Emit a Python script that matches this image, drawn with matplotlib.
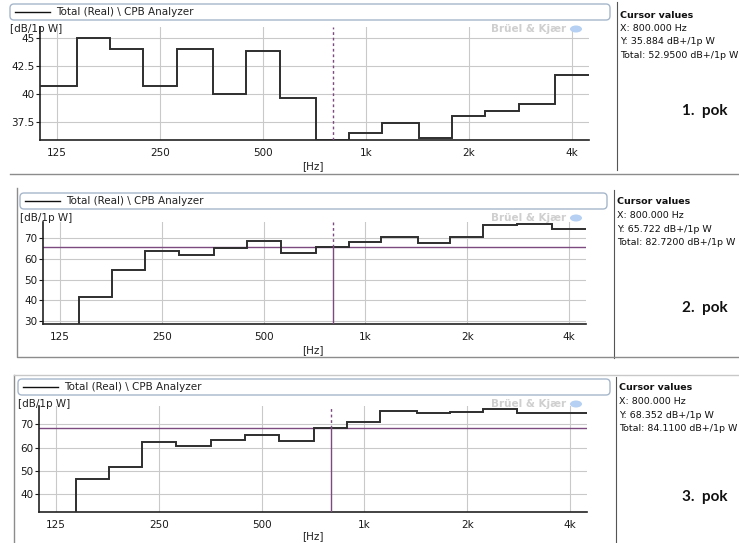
import numpy as np
import matplotlib
matplotlib.use("Agg")
import matplotlib.pyplot as plt
import matplotlib.transforms as mtransforms
from matplotlib.lines import Line2D
from matplotlib.patches import FancyBboxPatch, Ellipse

# 1/3 octave bands
bands = [125, 160, 200, 250, 315, 400, 500, 630, 800, 1000, 1250, 1600, 2000, 2500, 3150, 4000]
xticks = [125, 250, 500, 1000, 2000, 4000]
xticklabels = ['125', '250', '500', '1k', '2k', '4k']

# levels in dB/1p W (first band of 2. and 3. is below the axis)
pok1 = [40.7, 45.0, 44.0, 40.7, 44.0, 40.0, 43.8, 39.6, 35.884, 36.5, 37.4, 36.1, 38.05, 38.5, 39.1, 41.65]
pok2 = [20, 41.6, 54.7, 63.7, 62.1, 65.3, 68.8, 63.0, 65.722, 68.1, 70.6, 68.0, 70.6, 76.4, 77.0, 74.6]
pok3 = [20, 46.6, 51.7, 62.6, 60.6, 63.4, 65.4, 62.8, 68.352, 71.0, 75.9, 75.0, 75.5, 76.9, 74.8, 75.0]

cursor_x = 800
cursor_y = [35.884, 65.722, 68.352]
totals = ['52.9500', '82.7200', '84.1100']
labels = ['1.  pok', '2.  pok', '3.  pok']

yticks = [[37.5, 40, 42.5, 45], [30, 40, 50, 60, 70], [40, 50, 60, 70]]
ylims = [(35.884, 45.95), (28.4, 78.0), (32.1, 78.0)]

W, H = 739, 543
fig = plt.figure(figsize=(W / 100, H / 100), dpi=100)
fig.patch.set_facecolor('white')
T = mtransforms.Affine2D().scale(1, -1).translate(0, H)  # image pixel coords

edges = np.array(bands + [bands[-1]]) * 1.0
edges[:-1] = np.array(bands) * 10 ** -0.05
edges[-1] = bands[-1] * 10 ** 0.05

purple = '#7d4a80'
stepc = '#2e2e2e'
gridc = '#c9c9c9'

# panel geometry in pixels: axes left, right, top, bottom, panel top
geo = [
    (40, 589, 27, 140, 0),
    (43, 586, 222, 324, 188),
    (39, 587, 406, 512, 375),
]
legend_box = [(10, 610, 4, 20), (20, 607, 193, 209), (18, 610, 379, 395)]
sep_x = [617, 614, 616]
info_y = [15, 202, 388]
pok_y = [111, 308, 497]
hz_off = [26, 26, 24]

data = [pok1, pok2, pok3]

for i in range(3):
    l, r, t, b, pt = geo[i]
    ax = fig.add_axes([l / W, 1 - b / H, (r - l) / W, (b - t) / H])
    ax.set_xscale('log')
    ax.stairs(data[i], edges, baseline=None, color=stepc, lw=1.4, zorder=3)
    ax.set_xlim(edges[0], edges[-1])
    ax.set_ylim(*ylims[i])
    ax.set_xticks(xticks)
    ax.set_xticklabels(xticklabels)
    ax.xaxis.set_minor_locator(matplotlib.ticker.NullLocator())
    ax.set_yticks(yticks[i])
    ax.set_yticklabels(['%g' % v for v in yticks[i]])
    ax.tick_params(axis='x', length=0, pad=6, labelsize=7.5, colors='#1a1a1a')
    ax.tick_params(axis='y', length=3, width=0.8, pad=1, labelsize=7.5, colors='#1a1a1a')
    ax.grid(True, color=gridc, lw=0.8)
    ax.set_axisbelow(True)
    for s in ['top', 'right']:
        ax.spines[s].set_visible(False)
    for s in ['left', 'bottom']:
        ax.spines[s].set_color('#222222')
        ax.spines[s].set_linewidth(1.2)

    # cursor
    y0, y1 = ylims[i]
    cy = cursor_y[i]
    if cy - y0 < 0.01 * (y1 - y0):
        ax.plot([cursor_x, cursor_x], [y0, y1], color=purple, lw=1.0, ls=(0, (2, 2)), zorder=4)
    else:
        ax.axhline(cy, color=purple, lw=1.0, zorder=2)
        ax.plot([cursor_x, cursor_x], [y0, cy], color=purple, lw=1.0, zorder=4)
        ax.plot([cursor_x, cursor_x], [cy, y1], color=purple, lw=1.0, ls=(0, (2, 2)), zorder=4)

    # legend bar
    lx0, lx1, ly0, ly1 = legend_box[i]
    fig.add_artist(FancyBboxPatch((lx0, ly0), lx1 - lx0, ly1 - ly0,
                                  boxstyle='round,pad=0,rounding_size=4',
                                  transform=T, fc='white', ec='#a7b7cb', lw=1.0))
    fig.add_artist(Line2D([lx0 + 5, lx0 + 40], [(ly0 + ly1) / 2] * 2, transform=T,
                          color='#111111', lw=1.0))
    fig.text(lx0 + 46, (ly0 + ly1) / 2, 'Total (Real) \\ CPB Analyzer', transform=T,
             fontsize=7.5, va='center', ha='left', color='#222222')

    # axis labels
    fig.text(lx0, ly1 + 9, '[dB/1p W]', transform=T, fontsize=7.5, va='center',
             ha='left', color='#222222')
    fig.text(313, b + hz_off[i], '[Hz]', transform=T, fontsize=7.5, va='center',
             ha='center', color='#222222')

    # watermark
    fig.text(566, ly1 + 9, 'Brüel & Kjær', transform=T, fontsize=7.5, va='center',
             ha='right', color='#cfcfcf', fontweight='bold')
    fig.add_artist(Ellipse((576, ly1 + 9), 12, 7, transform=T, fc='#b5d0f2', ec='none'))

    # right info panel
    sx = sep_x[i]
    fig.add_artist(Line2D([sx, sx], [pt + 2, pt + 170], transform=T, color='#555555', lw=0.8))
    iy = info_y[i]
    fs = 6.8
    fig.text(sx + 3, iy, 'Cursor values', transform=T, fontsize=fs, fontweight='bold',
             va='center', ha='left', color='#111111')
    fig.text(sx + 3, iy + 13.5, 'X: %.3f Hz' % cursor_x, transform=T, fontsize=fs,
             va='center', ha='left', color='#111111')
    fig.text(sx + 3, iy + 27, 'Y: %.3f dB+/1p W' % cy, transform=T, fontsize=fs,
             va='center', ha='left', color='#111111')
    fig.text(sx + 3, iy + 40.5, 'Total: %s dB+/1p W' % totals[i], transform=T, fontsize=fs,
             va='center', ha='left', color='#111111')
    fig.text(705, pok_y[i], labels[i], transform=T, fontsize=11, fontweight='bold',
             family='Lato', va='center', ha='center', color='#111111')

# panel frames
frame = '#8c8c8c'
fig.add_artist(Line2D([10, W], [174, 174], transform=T, color=frame, lw=1.0))
fig.add_artist(Line2D([17, 17, W], [188, 357, 357], transform=T, color=frame, lw=1.0))
fig.add_artist(Line2D([14, 14], [543, 375], transform=T, color=frame, lw=1.0))
fig.add_artist(Line2D([14, W], [375, 375], transform=T, color='#c8c8c8', lw=1.0))

fig.savefig('out.png', dpi=100)
